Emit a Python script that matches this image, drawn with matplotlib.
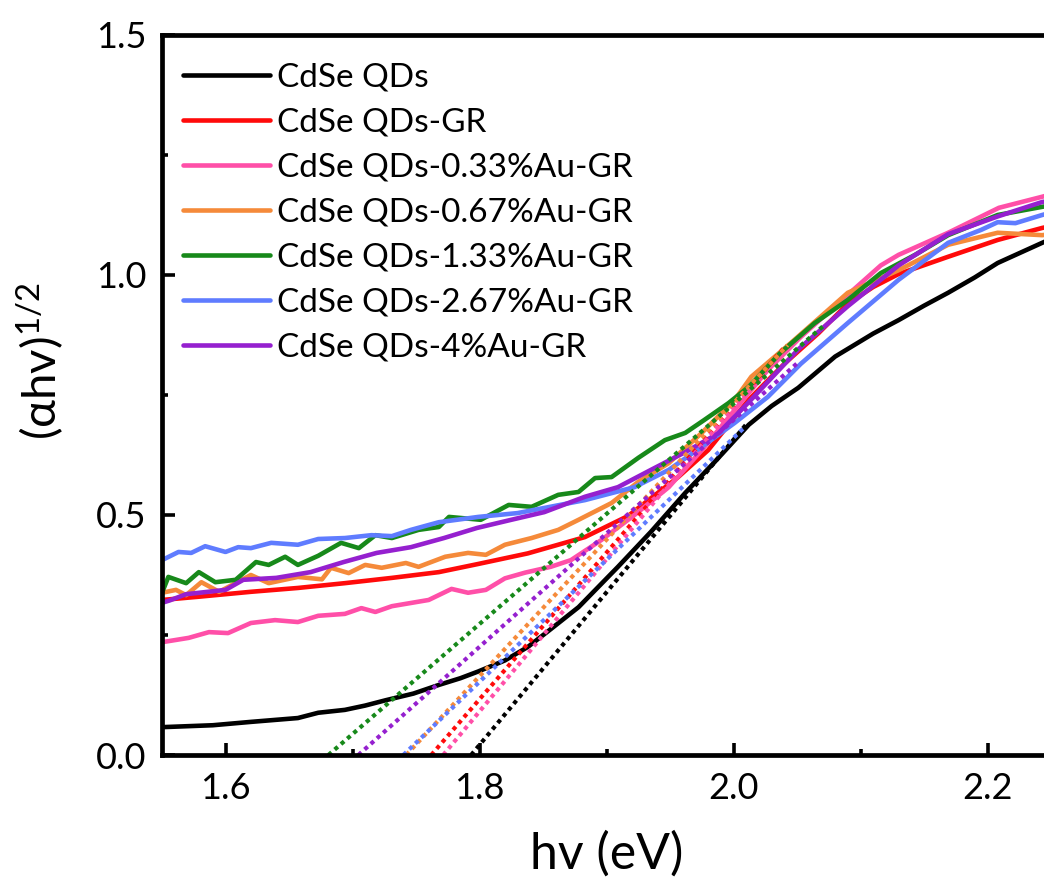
import matplotlib
matplotlib.use('Agg')
import matplotlib.pyplot as plt
from matplotlib.ticker import MultipleLocator, FormatStrFormatter

plt.rcParams['font.family'] = ['Lato', 'DejaVu Sans']
plt.rcParams['mathtext.fontset'] = 'custom'
plt.rcParams['mathtext.rm'] = 'Lato'
plt.rcParams['mathtext.default'] = 'regular'

# Tauc plot data, photon energy (eV) vs (alpha*h*nu)^(1/2)
labels = ['CdSe QDs', 'CdSe QDs-GR', 'CdSe QDs-0.33%Au-GR', 'CdSe QDs-0.67%Au-GR',
          'CdSe QDs-1.33%Au-GR', 'CdSe QDs-2.67%Au-GR', 'CdSe QDs-4%Au-GR']
colors = ['#000000', '#ff0a0a', '#ff4fa8', '#f58a3a', '#17891a', '#5f7cff', '#9520cf']

e_qds = [1.550, 1.590, 1.620, 1.657, 1.673, 1.694, 1.710, 1.726, 1.748, 1.768, 1.785, 1.799,
         1.820, 1.838, 1.856, 1.878, 1.909, 1.935, 1.962, 1.985, 2.012, 2.030, 2.051, 2.080,
         2.110, 2.130, 2.150, 2.169, 2.190, 2.208, 2.243, 2.250]
y_qds = [0.058, 0.062, 0.069, 0.077, 0.088, 0.094, 0.103, 0.114, 0.128, 0.146, 0.160, 0.174,
         0.197, 0.225, 0.262, 0.308, 0.392, 0.465, 0.546, 0.610, 0.688, 0.727, 0.765, 0.830,
         0.878, 0.906, 0.936, 0.963, 0.995, 1.025, 1.067, 1.075]

e_gr = [1.550, 1.580, 1.620, 1.657, 1.694, 1.731, 1.768, 1.799, 1.838, 1.883, 1.917, 1.935,
        1.956, 1.980, 2.012, 2.040, 2.067, 2.090, 2.110, 2.130, 2.169, 2.208, 2.243, 2.250]
y_gr = [0.323, 0.330, 0.340, 0.348, 0.358, 0.369, 0.381, 0.398, 0.420, 0.454, 0.498, 0.535,
        0.578, 0.635, 0.740, 0.815, 0.879, 0.940, 0.975, 1.002, 1.038, 1.073, 1.098, 1.102]

e_au033 = [1.550, 1.571, 1.587, 1.602, 1.620, 1.639, 1.657, 1.673, 1.694, 1.707, 1.718, 1.731,
           1.760, 1.778, 1.791, 1.805, 1.820, 1.836, 1.856, 1.872, 1.896, 1.923, 1.949, 1.975,
           2.001, 2.027, 2.053, 2.082, 2.116, 2.130, 2.169, 2.209, 2.243, 2.250]
y_au033 = [0.235, 0.244, 0.256, 0.254, 0.275, 0.281, 0.277, 0.290, 0.294, 0.306, 0.298, 0.310,
           0.323, 0.346, 0.338, 0.344, 0.368, 0.380, 0.392, 0.406, 0.448, 0.502, 0.558, 0.635,
           0.719, 0.802, 0.871, 0.940, 1.020, 1.042, 1.088, 1.140, 1.163, 1.168]

e_au067 = [1.550, 1.561, 1.569, 1.581, 1.595, 1.620, 1.634, 1.657, 1.676, 1.683, 1.697, 1.710,
           1.723, 1.742, 1.752, 1.773, 1.791, 1.805, 1.820, 1.841, 1.862, 1.878, 1.904, 1.925,
           1.949, 1.975, 2.001, 2.014, 2.045, 2.072, 2.090, 2.130, 2.169, 2.208, 2.243, 2.250]
y_au067 = [0.338, 0.344, 0.333, 0.360, 0.340, 0.375, 0.358, 0.371, 0.366, 0.390, 0.379, 0.396,
           0.390, 0.400, 0.392, 0.413, 0.421, 0.417, 0.438, 0.452, 0.469, 0.490, 0.525, 0.569,
           0.608, 0.671, 0.740, 0.788, 0.858, 0.921, 0.963, 1.010, 1.063, 1.088, 1.083, 1.085]

e_au133 = [1.550, 1.555, 1.569, 1.579, 1.592, 1.608, 1.624, 1.634, 1.647, 1.657, 1.673, 1.691,
           1.705, 1.718, 1.731, 1.752, 1.768, 1.776, 1.801, 1.823, 1.841, 1.862, 1.878, 1.891,
           1.904, 1.925, 1.946, 1.962, 1.977, 1.996, 2.012, 2.037, 2.064, 2.090, 2.116, 2.143,
           2.169, 2.208, 2.243, 2.250]
y_au133 = [0.338, 0.371, 0.358, 0.381, 0.360, 0.365, 0.402, 0.396, 0.413, 0.396, 0.415, 0.442,
           0.431, 0.458, 0.452, 0.469, 0.475, 0.496, 0.490, 0.521, 0.517, 0.542, 0.548, 0.577,
           0.579, 0.619, 0.656, 0.671, 0.698, 0.733, 0.767, 0.838, 0.900, 0.948, 1.004, 1.042,
           1.083, 1.125, 1.142, 1.145]

e_au267 = [1.550, 1.563, 1.573, 1.584, 1.600, 1.610, 1.620, 1.636, 1.657, 1.673, 1.694, 1.715,
           1.731, 1.746, 1.768, 1.799, 1.830, 1.883, 1.922, 1.949, 1.975, 2.001, 2.027, 2.053,
           2.090, 2.130, 2.169, 2.195, 2.208, 2.222, 2.243, 2.250]
y_au267 = [0.406, 0.423, 0.421, 0.435, 0.423, 0.433, 0.431, 0.442, 0.438, 0.450, 0.452, 0.458,
           0.456, 0.469, 0.485, 0.496, 0.504, 0.531, 0.558, 0.594, 0.642, 0.692, 0.746, 0.815,
           0.900, 0.990, 1.067, 1.094, 1.110, 1.108, 1.125, 1.130]

e_au4 = [1.550, 1.556, 1.569, 1.600, 1.614, 1.640, 1.667, 1.693, 1.719, 1.746, 1.772, 1.798,
         1.825, 1.851, 1.883, 1.909, 1.935, 1.962, 1.988, 2.012, 2.051, 2.090, 2.130, 2.169,
         2.208, 2.243, 2.250]
y_au4 = [0.317, 0.322, 0.335, 0.344, 0.365, 0.369, 0.381, 0.402, 0.421, 0.433, 0.452, 0.473,
         0.490, 0.506, 0.538, 0.558, 0.594, 0.631, 0.670, 0.735, 0.845, 0.935, 1.020, 1.085,
         1.122, 1.152, 1.155]

energies = [e_qds, e_gr, e_au033, e_au067, e_au133, e_au267, e_au4]
values = [y_qds, y_gr, y_au033, y_au067, y_au133, y_au267, y_au4]

# linear fits of the absorption edge: x-intercept (band gap) and upper end of the fit line
fit_eg = [1.7934, 1.7620, 1.7714, 1.7423, 1.6810, 1.7400, 1.7046]
fit_end_e = [2.0096, 2.0403, 2.0145, 2.0426, 2.0717, 2.0088, 2.0505]
fit_end_y = [0.6875, 0.8500, 0.7710, 0.8540, 0.8960, 0.6830, 0.8170]

fig = plt.figure(figsize=(10.44, 8.8), dpi=100)
ax = fig.add_axes([162/1044, 125/880, 889/1044, 720/880])

for e, y, c, lab in zip(energies, values, colors, labels):
    ax.plot(e, y, color=c, lw=3.3, label=lab, solid_capstyle='round', solid_joinstyle='round')

for eg, e1, y1, c in zip(fit_eg, fit_end_e, fit_end_y, colors):
    ax.plot([eg, e1], [0, y1], color=c, lw=3.0, linestyle=(0, (1, 1.0)))

ax.set_xlim(1.55, 2.25)
ax.set_ylim(0, 1.5)
ax.xaxis.set_major_locator(MultipleLocator(0.2))
ax.xaxis.set_minor_locator(MultipleLocator(0.1))
ax.yaxis.set_major_locator(MultipleLocator(0.5))
ax.yaxis.set_minor_locator(MultipleLocator(0.25))
ax.xaxis.set_major_formatter(FormatStrFormatter('%.1f'))
ax.yaxis.set_major_formatter(FormatStrFormatter('%.1f'))

for s in ax.spines.values():
    s.set_linewidth(3.4)
ax.tick_params(which='major', direction='in', length=9, width=2.6, labelsize=26)
ax.tick_params(which='minor', direction='in', length=4, width=2.6)
ax.tick_params(axis='x', which='major', pad=12)
ax.tick_params(axis='y', which='major', pad=11)

ax.set_xlabel('hv (eV)', fontsize=36)
ax.xaxis.set_label_coords(0.5, -0.105)
ax.set_ylabel(r'(αhv)$^{1/2}$', fontsize=34)
ax.yaxis.set_label_coords(-0.108, 0.547)

leg = ax.legend(loc='upper left', bbox_to_anchor=(0.0236, 0.962), frameon=False, fontsize=24,
                handlelength=2.6, handletextpad=0.22, labelspacing=0.45, borderpad=0,
                borderaxespad=0)
for h in leg.legend_handles:
    h.set_linewidth(3.3)

plt.savefig('out.png', dpi=100)
